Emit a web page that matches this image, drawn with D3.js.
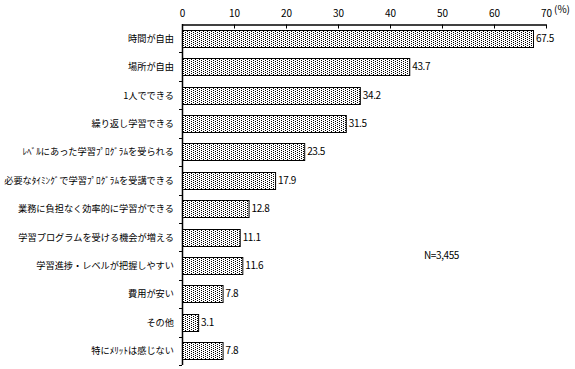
<!DOCTYPE html>
<html>
<head>
<meta charset="utf-8">
<script src="https://cdn.jsdelivr.net/npm/d3@7"></script>
<style>
  body { margin: 0; background: #fff; }
  text { font-family: "Noto Sans CJK JP", "DejaVu Sans", sans-serif; fill: #000; }
</style>
</head>
<body>
<div id="chart"></div>
<script>
// data
var categories = [
    "時間が自由",
    "場所が自由",
    "1人でできる",
    "繰り返し学習できる",
    "ﾚﾍﾞﾙにあった学習ﾌﾟﾛｸﾞﾗﾑを受られる",
    "必要なﾀｲﾐﾝｸﾞで学習ﾌﾟﾛｸﾞﾗﾑを受講できる",
    "業務に負担なく効率的に学習ができる",
    "学習プログラムを受ける機会が増える",
    "学習進捗・レベルが把握しやすい",
    "費用が安い",
    "その他",
    "特にﾒﾘｯﾄは感じない"
];
var values = [67.5, 43.7, 34.2, 31.5, 23.5, 17.9, 12.8, 11.1, 11.6, 7.8, 3.1, 7.8];
var tickValues = [0, 10, 20, 30, 40, 50, 60, 70];
var note = "N=3,455";

var width = 575, height = 369;
var svg = d3.select("#chart").append("svg")
    .attr("width", width)
    .attr("height", height);

// dotted fill
var defs = svg.append("defs");
var pat = defs.append("pattern")
    .attr("id", "dots")
    .attr("width", 4)
    .attr("height", 2)
    .attr("patternUnits", "userSpaceOnUse");
pat.append("rect").attr("width", 4).attr("height", 2).attr("fill", "#fff");
pat.append("rect").attr("x", 1).attr("y", 0).attr("width", 1).attr("height", 1).attr("fill", "#000");
pat.append("rect").attr("x", 3).attr("y", 1).attr("width", 1).attr("height", 1).attr("fill", "#000");

var x = d3.scaleLinear().domain([0, 70]).range([182, 546]);
var y = d3.scaleBand()
    .domain(categories)
    .range([24, 365])
    .paddingInner(0.4)
    .paddingOuter(0.2);

// top axis
var xAxis = svg.append("g")
    .attr("transform", "translate(0,24.5)")
    .call(d3.axisTop(x).tickValues(tickValues).tickSize(-4).tickPadding(8).tickSizeOuter(0));
xAxis.select(".domain").attr("stroke", "#000").attr("stroke-width", 1.5);
xAxis.selectAll(".tick line").attr("stroke", "#000");
xAxis.selectAll(".tick text")
    .attr("font-size", "10px")
    .attr("font-family", "'DejaVu Sans', sans-serif");

svg.append("text")
    .attr("x", x(70) + 8)
    .attr("y", 13)
    .attr("font-size", "10px")
    .text("(%)");

// left axis line
svg.append("line")
    .attr("x1", x(0) + 0.5).attr("x2", x(0) + 0.5)
    .attr("y1", 24).attr("y2", 365)
    .attr("stroke", "#000")
    .attr("stroke-width", 1.5);

// small ticks between categories
var step = y.step();
svg.selectAll(".ytick")
    .data(d3.range(1, categories.length + 1))
    .enter()
    .append("line")
    .attr("x1", x(0) - 3).attr("x2", x(0))
    .attr("y1", function(d) { return Math.round(y.range()[0] + d * step) + 0.5; })
    .attr("y2", function(d) { return Math.round(y.range()[0] + d * step) + 0.5; })
    .attr("stroke", "#000");

// bars
svg.selectAll(".bar")
    .data(values)
    .enter()
    .append("rect")
    .attr("x", x(0) + 0.5)
    .attr("y", function(d, i) { return Math.round(y(categories[i])) + 0.5; })
    .attr("width", function(d) { return x(d) - x(0); })
    .attr("height", Math.round(y.bandwidth()))
    .attr("fill", "url(#dots)")
    .attr("stroke", "#000")
    .attr("stroke-width", 1);

// value labels
svg.selectAll(".val")
    .data(values)
    .enter()
    .append("text")
    .attr("x", function(d) { return x(d) + 3; })
    .attr("y", function(d, i) { return y(categories[i]) + y.bandwidth() / 2 + 3.5; })
    .attr("font-size", "10px")
    .attr("font-family", "'DejaVu Sans', sans-serif")
    .attr("letter-spacing", "-0.4px")
    .text(function(d) { return d.toFixed(1); });

// category labels
svg.selectAll(".cat")
    .data(categories)
    .enter()
    .append("text")
    .attr("x", 174)
    .attr("y", function(d) { return y(d) + y.bandwidth() / 2 + 3.5; })
    .attr("text-anchor", "end")
    .attr("font-size", "9.2px")
    .text(function(d) { return d; });

svg.append("text")
    .attr("x", 424)
    .attr("y", 259)
    .attr("font-size", "10px")
    .attr("font-family", "'DejaVu Sans', sans-serif")
    .attr("letter-spacing", "-0.4px")
    .text(note);
</script>
</body>
</html>
